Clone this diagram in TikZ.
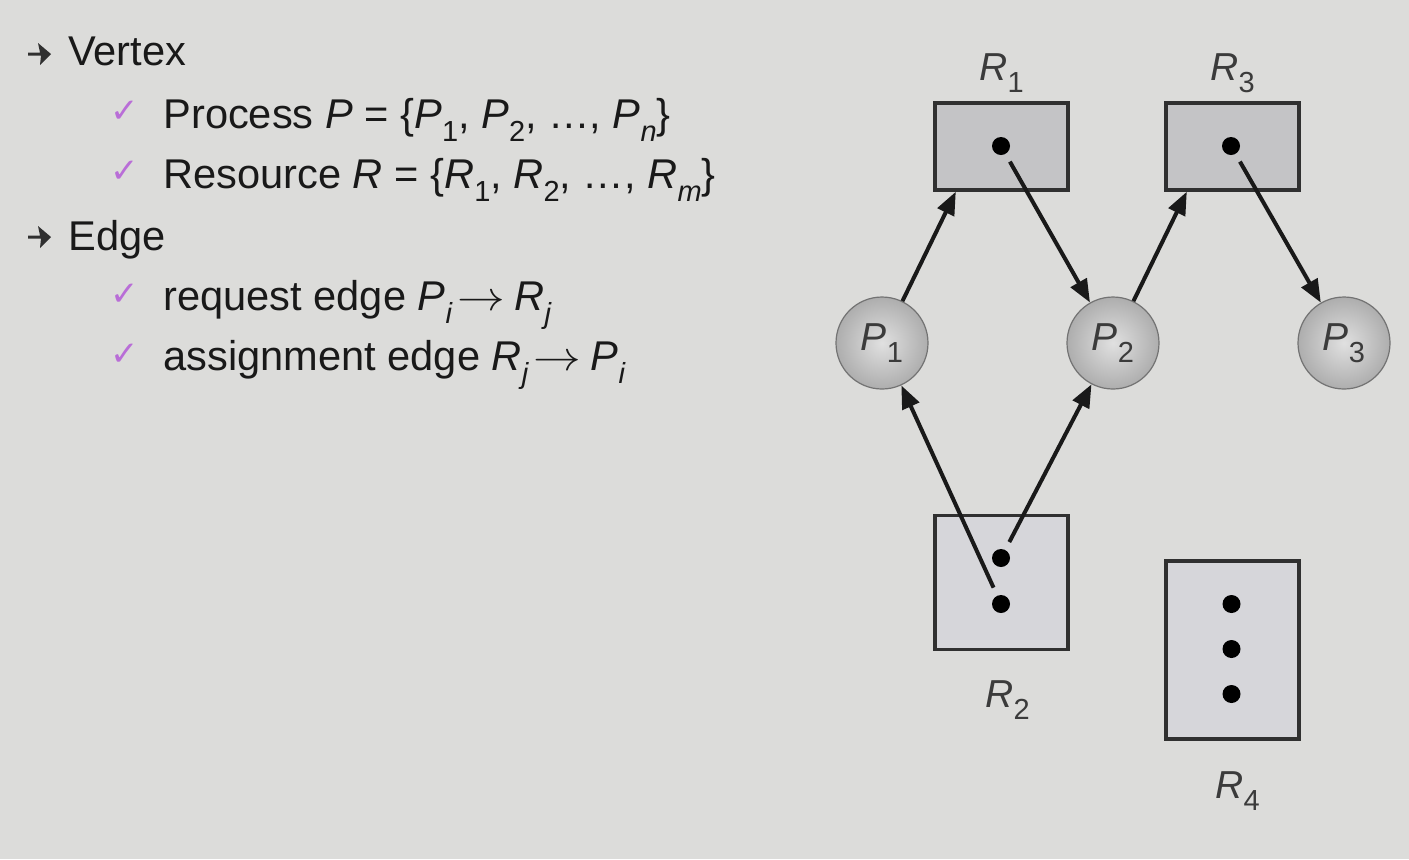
\documentclass[tikz,border=0pt]{standalone}
\usepackage{fontspec}
\setmainfont{Liberation Sans}
\newfontfamily\djv{DejaVu Sans}
\usetikzlibrary{arrows.meta,calc}
\definecolor{bg}{RGB}{220,220,218}
\definecolor{dkfill}{RGB}{196,196,198}
\definecolor{ltfill}{RGB}{214,214,218}
\definecolor{ink}{RGB}{25,25,25}
\definecolor{tick}{RGB}{185,110,215}
\newcommand{\sbs}[1]{\raisebox{-0.32em}{\fontsize{14.5}{15}\selectfont #1}}
\newcommand{\rarr}{\hspace{0.12em}\scalebox{1.15}[1]{$\rightarrow$}\hspace{0.22em}}
\begin{document}
\begin{tikzpicture}[x=0.5pt,y=-0.5pt,
  txt/.style={anchor=base west,inner sep=0pt,text=ink,font=\fontsize{20.8}{24}\selectfont},
  lbl/.style={anchor=base west,inner sep=0pt,text=ink!85,font=\fontsize{19.5}{22}\selectfont},
  chk/.style={inner sep=0pt,text=tick,font=\djv\fontsize{17}{18}\selectfont},
  bulshape/.style={fill=ink!90},
  resbox/.style={draw=ink!90,line width=1.7pt,minimum width=66.5pt,inner sep=0pt},
  dkbox/.style={resbox,fill=dkfill},
  ltbox/.style={resbox,fill=ltfill},
  proc/.style={circle,draw=black!55,line width=0.6pt,minimum size=46pt,inner sep=0pt,
     inner color=black!12,outer color=black!32,text=ink!85,font=\fontsize{19.5}{22}\selectfont},
  dot/.style={circle,fill=black,minimum size=9pt,inner sep=0pt,outer sep=4.5pt},
  edge/.style={draw=ink,line width=2pt,-{Triangle[length=11.5pt,width=9pt]}}
]
\fill[bg] (0,0) rectangle (1409,859);
\useasboundingbox (0,0) rectangle (1409,859);

% bullets
\fill[bulshape] (28,52.5) -- (40,52.5) -- (38,43) -- (51,54) -- (40,65) -- (41,55.5) -- (28,55.5) -- cycle;
\fill[bulshape] (28,235.5) -- (40,235.5) -- (38,226) -- (51,237) -- (40,248) -- (41,238.5) -- (28,238.5) -- cycle;

% left text
\node[txt] (t1) at (68,65) {Vertex};
\node[chk] (c1) at (125,112) {✓};
\node[txt] (t2) at (163,128) {Process \textit{P} = \{\textit{P}\sbs{1}, \textit{P}\sbs{2}, …, \textit{P}\sbs{\textit{n}}\}};
\node[chk] (c2) at (125,172) {✓};
\node[txt] (t3) at (163,188) {Resource \textit{R} = \{\textit{R}\sbs{1}, \textit{R}\sbs{2}, …, \textit{R}\sbs{\textit{m}}\}};
\node[txt] (t4) at (68,250) {Edge};
\node[chk] (c3) at (125,295) {✓};
\node[txt] (t5) at (163,310) {request edge \textit{P}\sbs{\textit{i}}\rarr\textit{R}\sbs{\textit{j}}};
\node[chk] (c4) at (125,355) {✓};
\node[txt] (t6) at (163,370) {assignment edge \textit{R}\sbs{\textit{j}}\rarr\textit{P}\sbs{\textit{i}}};

% resources
\node[dkbox,minimum height=43.5pt] (R1) at (1001.5,146.5) {};
\node[dkbox,minimum height=43.5pt] (R3) at (1232.5,146.5) {};
\node[ltbox,minimum height=67pt] (R2) at (1001.5,582.5) {};
\node[ltbox,minimum height=89pt] (R4) at (1232.5,650) {};

\node[dot] (d1) at (1001,146) {};
\node[dot] (d3) at (1231,146) {};
\node[dot] (d2a) at (1001,558) {};
\node[dot] (d2b) at (1001,604) {};
\node[dot] (d4a) at (1231.5,604) {};
\node[dot] (d4b) at (1231.5,649) {};
\node[dot] (d4c) at (1231.5,694) {};

\node[lbl] (L1) at (979,80) {\textit{R}\sbs{1}};
\node[lbl] (L3) at (1210,80) {\textit{R}\sbs{3}};
\node[lbl] (L2) at (985,707) {\textit{R}\sbs{2}};
\node[lbl] (L4) at (1215,798) {\textit{R}\sbs{4}};

% processes
\node[proc] (P1) at (882,343) {\textit{P}\sbs{1}};
\node[proc] (P2) at (1113,343) {\textit{P}\sbs{2}};
\node[proc] (P3) at (1344,343) {\textit{P}\sbs{3}};

% edges
\coordinate (e1) at ($(R1.south west)!0.165!(R1.south east)$);
\coordinate (e3) at ($(R3.south west)!0.165!(R3.south east)$);
\draw[edge] (P1) -- (e1);
\draw[edge] (d1) -- (P2);
\draw[edge] (P2) -- (e3);
\draw[edge] (d3) -- (P3);
\draw[edge] (d2b) -- (P1);
\draw[edge] (d2a) -- (P2);
\end{tikzpicture}
\end{document}
